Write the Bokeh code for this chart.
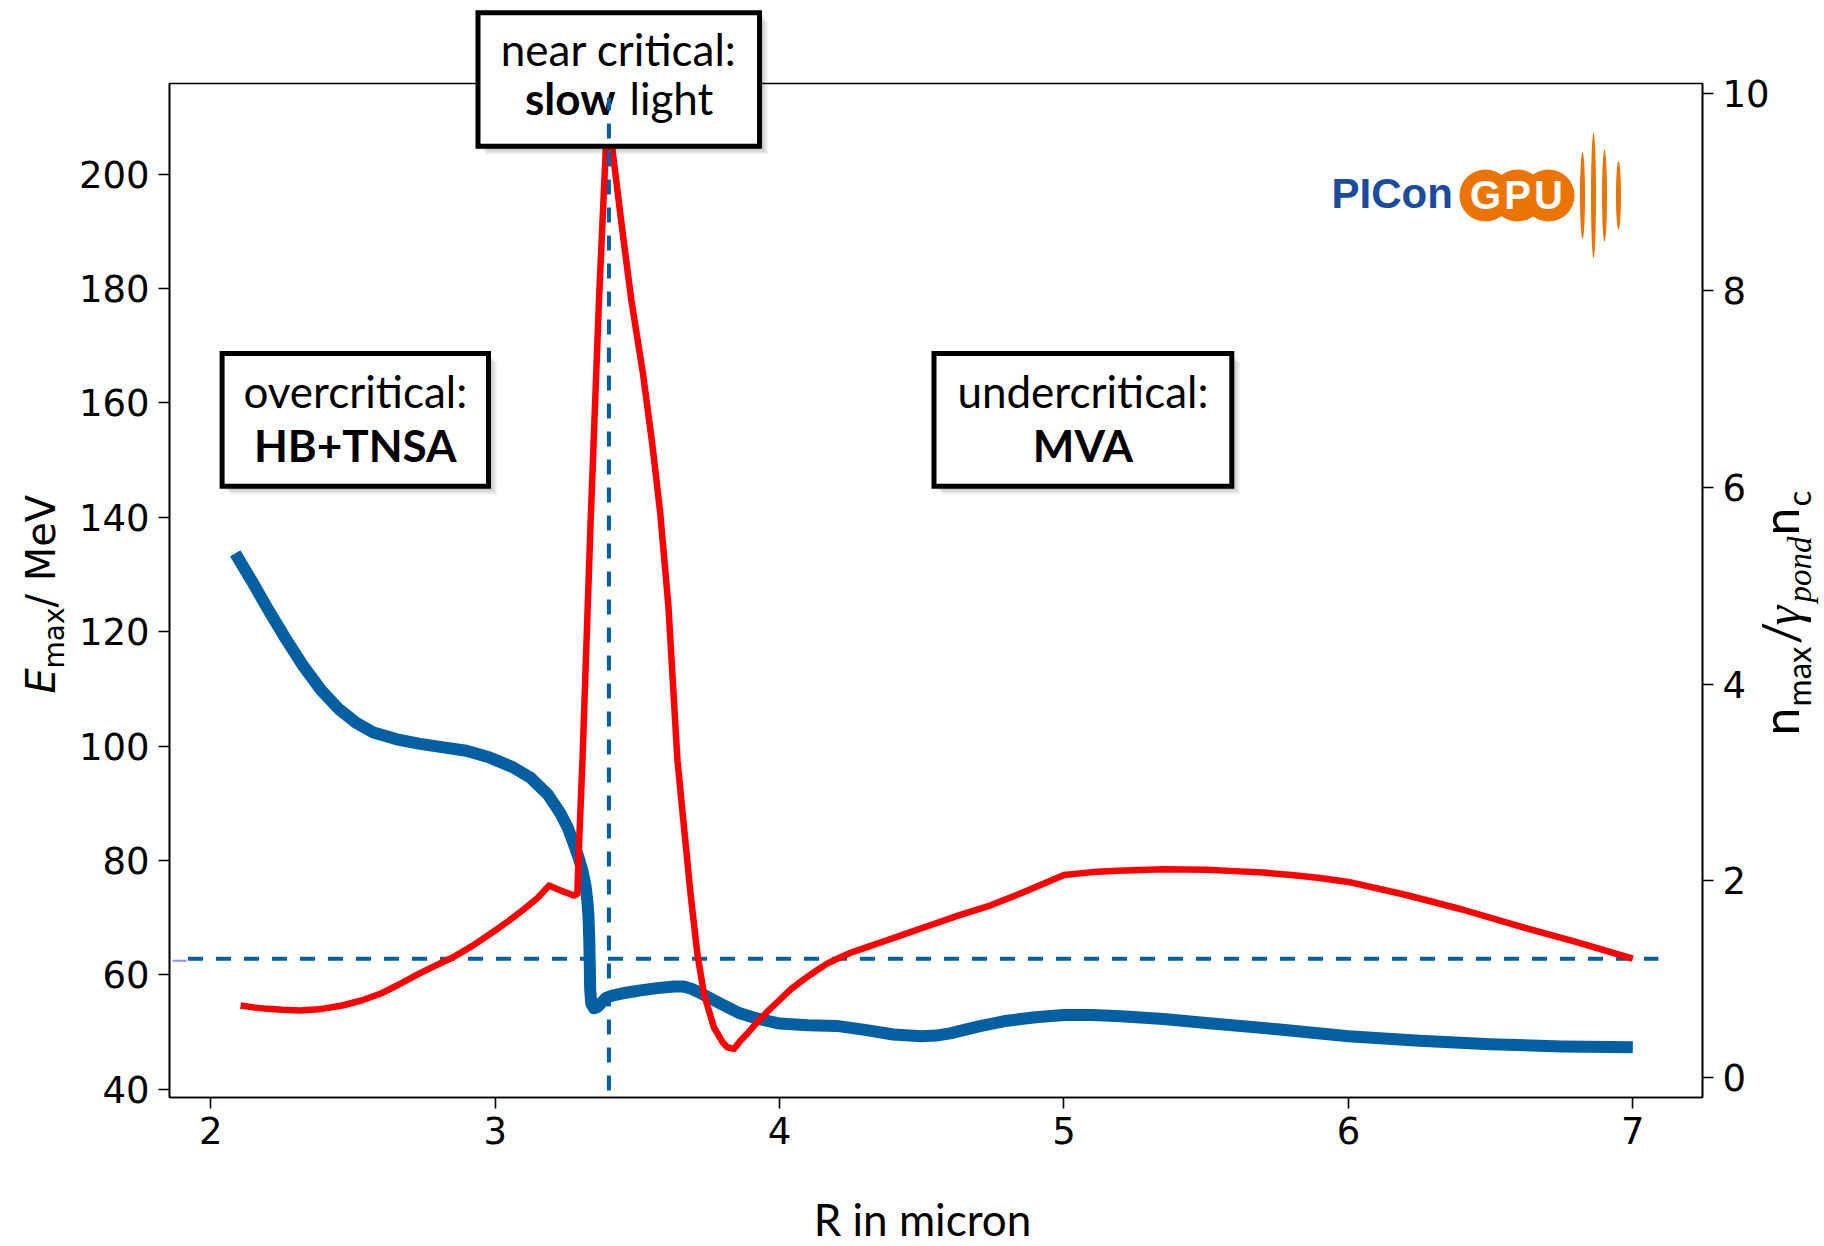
import math
from bokeh.plotting import figure
from bokeh.models import Range1d, LinearAxis, FixedTicker
from bokeh.core.properties import value
from bokeh.embed import file_html
from bokeh.resources import INLINE

# ---------------- data ----------------
# maximum proton energy (left axis, MeV) vs target radius R (micron)
R_blue = [2.086, 2.143, 2.204, 2.266, 2.327, 2.388, 2.450, 2.511, 2.572, 2.654,
          2.736, 2.818, 2.899, 2.981, 3.063, 3.124, 3.186, 3.230, 3.255, 3.276,
          3.293, 3.307, 3.318, 3.324, 3.328, 3.331, 3.333, 3.334, 3.338, 3.347,
          3.360, 3.375, 3.390, 3.412, 3.460, 3.511, 3.570, 3.629, 3.660, 3.690,
          3.720, 3.746, 3.800, 3.860, 3.920, 4.00, 4.10, 4.20, 4.30, 4.40,
          4.50, 4.55, 4.60, 4.70, 4.80, 4.90, 5.00, 5.10, 5.20, 5.35, 5.50,
          5.75, 6.00, 6.25, 6.50, 6.75, 7.00]
E_max = [133.7, 129.0, 123.7, 118.6, 113.9, 109.8, 106.5, 104.1, 102.4, 101.2,
         100.4, 99.8, 99.2, 98.0, 96.3, 94.5, 91.5, 88.2, 85.8, 83.0,
         80.6, 78.2, 75.5, 73.0, 70.5, 66.0, 61.0, 57.5, 55.0, 54.2,
         54.4, 55.2, 56.0, 56.4, 56.9, 57.3, 57.7, 58.0, 58.0, 57.6,
         56.9, 56.2, 54.8, 53.3, 52.4, 51.5, 51.2, 51.1, 50.4, 49.6,
         49.3, 49.4, 49.8, 51.0, 52.0, 52.6, 53.0, 53.0, 52.8, 52.3, 51.6,
         50.5, 49.3, 48.5, 47.9, 47.5, 47.37]

# n_max / (gamma_pond n_c) (right axis) vs R
R_red = [2.105, 2.150, 2.200, 2.250, 2.314, 2.380, 2.462, 2.530, 2.596, 2.660,
         2.731, 2.790, 2.852, 2.920, 3.000, 3.050, 3.100, 3.150, 3.189, 3.230,
         3.277, 3.289, 3.295, 3.307, 3.335, 3.365, 3.389, 3.396, 3.412, 3.450,
         3.479, 3.520, 3.552, 3.580, 3.609, 3.641, 3.664, 3.687, 3.711, 3.734,
         3.769, 3.800, 3.816, 3.840, 3.863, 3.890, 3.920, 3.960, 4.000, 4.040,
         4.085, 4.130, 4.167, 4.210, 4.250, 4.310, 4.370, 4.450, 4.530, 4.630,
         4.740, 4.870, 5.000, 5.100, 5.190, 5.350, 5.500, 5.600, 5.700, 5.800,
         5.900, 6.000, 6.200, 6.400, 6.600, 6.800, 7.000]
n_ratio = [0.734, 0.715, 0.700, 0.690, 0.683, 0.695, 0.734, 0.785, 0.853, 0.945,
           1.056, 1.140, 1.225, 1.340, 1.496, 1.600, 1.710, 1.830, 1.953, 1.903,
           1.852, 1.870, 2.377, 3.224, 5.600, 7.900, 9.440, 9.800, 9.440, 8.550,
           7.900, 7.150, 6.450, 5.750, 4.800, 3.224, 2.546, 1.869, 1.259, 0.853,
           0.513, 0.360, 0.310, 0.294, 0.378, 0.460, 0.560, 0.680, 0.790, 0.900,
           1.000, 1.090, 1.160, 1.220, 1.270, 1.330, 1.390, 1.470, 1.550, 1.650,
           1.750, 1.900, 2.060, 2.090, 2.105, 2.120, 2.115, 2.100, 2.085, 2.060,
           2.030, 1.990, 1.860, 1.710, 1.540, 1.380, 1.210]

# reference lines
R_slow = [3.40, 3.40]          # near-critical radius (vertical dashed)
n_slow_span = [-0.13, 9.96]
R_ref_span = [1.92, 7.09]      # horizontal dashed reference level
n_ref = [1.21, 1.21]

R_ticks = [2, 3, 4, 5, 6, 7]
E_ticks = [40, 60, 80, 100, 120, 140, 160, 180, 200]
n_ticks = [0, 2, 4, 6, 8, 10]

# ---------------- layout ----------------
W, H = 1824, 1246
FL, FR, FT, FB = 169, 1702, 83, 1097
X0, X1 = 1.855, 7.245
YL0, YL1 = 38.58, 215.85
YR0, YR1 = -0.201, 10.106


def px2x(px):
    return X0 + (px - FL) / (FR - FL) * (X1 - X0)


def py2y(py):
    return YL0 + (FB - py) / (FB - FT) * (YL1 - YL0)


# vertical shift of the rendered text relative to its anchor (fraction of size)
SHIFT = {"Lato": 0.41, "Liberation Sans": 0.37, "DejaVu Sans": 0.36,
         "Liberation Serif": 0.36}

BLUE = "#0260a2"
RED = "#ff0000"
ORANGE = "#ec7404"
TICK_FONT = "DejaVu Sans"
BOX_FONT = "Lato"

p = figure(width=W, height=H, output_backend="svg", toolbar_location=None,
           x_range=Range1d(X0, X1), y_range=Range1d(YL0, YL1),
           min_border_left=FL, min_border_right=W - FR,
           min_border_top=FT, min_border_bottom=H - FB)
p.extra_y_ranges = {"right": Range1d(YR0, YR1)}
p.grid.visible = False
p.background_fill_color = "white"
p.border_fill_color = "white"
p.outline_line_color = "black"
p.outline_line_width = 1.6

right_axis = LinearAxis(y_range_name="right")
p.add_layout(right_axis, "right")

for ax, ticks in ((p.xaxis[0], R_ticks), (p.yaxis[0], E_ticks), (right_axis, n_ticks)):
    ax.ticker = FixedTicker(ticks=ticks)
    ax.axis_line_color = "black"
    ax.axis_line_width = 1.6
    ax.major_tick_line_color = "black"
    ax.major_tick_line_width = 1.6
    ax.major_tick_out = 11
    ax.major_tick_in = 0
    ax.minor_tick_line_color = None
    ax.major_label_text_font = TICK_FONT
    ax.major_label_text_font_size = "37px"
    ax.major_label_text_color = "black"
    ax.major_label_standoff = 9

p.xaxis.major_label_standoff = 8


def txt(px, py, s, font, size, style="normal", align="left", angle=0.0,
        color="black"):
    """Place text so that its baseline passes through canvas point (px, py)."""
    sh = SHIFT[font] * size
    if angle == 0.0:
        ax_, ay_ = px, py - sh
    else:  # rotated 90 deg counter-clockwise: 'up' points to the left
        ax_, ay_ = px - sh, py
    p.text(x=[px2x(ax_)], y=[py2y(ay_)], text=[s], text_font=value(font),
           text_font_size=f"{size}px", text_font_style=style,
           text_color=color, text_align=align, text_baseline="alphabetic",
           angle=angle, level="overlay")


# ---------------- curves ----------------
p.line(R_ref_span, n_ref, y_range_name="right", line_color=BLUE,
       line_width=4, line_dash="15 13")
p.segment(x0=[px2x(172)], y0=[1.19], x1=[px2x(186)], y1=[1.19],
          y_range_name="right", line_color="#8f8ff0", line_width=2)
p.line(R_blue, E_max, line_color=BLUE, line_width=12, line_join="round")
p.line(R_red, n_ratio, y_range_name="right", line_color=RED, line_width=6.5,
       line_join="round")

# ---------------- annotation boxes ----------------
boxes = [
    # left, right, top, bottom (canvas px)
    (477.5, 759.0, 12.3, 145.8),
    (221.6, 488.0, 353.0, 485.7),
    (933.5, 1231.3, 353.0, 485.7),
]
for (l, r, t, b) in boxes:
    for d in (2, 4, 6, 8):
        p.quad(left=[px2x(l + d)], right=[px2x(r + d)], top=[py2y(t + d)],
               bottom=[py2y(b + d)], fill_color="black", fill_alpha=0.07,
               line_color=None, level="overlay")
    p.quad(left=[px2x(l)], right=[px2x(r)], top=[py2y(t)], bottom=[py2y(b)],
           fill_color="white", line_color="black", line_width=5,
           line_join="miter", level="overlay")

l, r, t, b = boxes[0]
txt((l + r) / 2, t + 54.5, "near critical:", BOX_FONT, 44, align="center")
txt(615, t + 103, "slow", BOX_FONT, 44, "bold", align="right")
txt(629, t + 103, "light", BOX_FONT, 44, align="left")
l, r, t, b = boxes[1]
txt((l + r) / 2, t + 56, "overcritical:", BOX_FONT, 44, align="center")
txt((l + r) / 2, t + 110, "HB+TNSA", BOX_FONT, 44, "bold", align="center")
l, r, t, b = boxes[2]
txt((l + r) / 2, t + 56, "undercritical:", BOX_FONT, 44, align="center")
txt((l + r) / 2, t + 110, "MVA", BOX_FONT, 44, "bold", align="center")

# vertical dashed line drawn above the boxes
p.line(R_slow, n_slow_span, y_range_name="right", line_color=BLUE,
       line_width=4, line_dash="15 13", level="overlay")

# ---------------- logo ----------------
txt(1331, 209, "PICon", "Liberation Sans", 42, "bold", color="#1a4b9c")
gpx = [1485, 1517, 1548]
p.scatter(x=[px2x(v) for v in gpx], y=[py2y(195)] * 3, size=52,
          marker="circle", fill_color=ORANGE, line_color=None)
for v, letter in zip(gpx, ["G", "P", "U"]):
    txt(v, 209, letter, "Liberation Sans", 40, "bold", align="center",
        color="white")
p.ellipse(x=[px2x(1582), px2x(1593), px2x(1604), px2x(1618)],
          y=[py2y(195)] * 4, width=5, height=[87, 125, 92, 69],
          width_units="screen", height_units="screen",
          fill_color=ORANGE, line_color=None)

# ---------------- axis titles ----------------
UP = math.pi / 2
# x: R in micron
txt(922, 1237, "R in micron", BOX_FONT, 44, align="center")
# left: E_max/ MeV  (rotated, reads bottom to top)
txt(55, 693, "E", "DejaVu Sans", 40, "italic", angle=UP)
txt(64, 668, "max", "DejaVu Sans", 28, angle=UP)
txt(55, 607, "/ MeV", "DejaVu Sans", 40, angle=UP)
# right: n_max / gamma_pond n_c
txt(1800, 735, "n", "Lato", 50, angle=UP)
txt(1811, 706, "max", "Lato", 33, angle=UP)
txt(1800, 644, "/", "Lato", 50, angle=UP)
txt(1800, 625, "\u03b3", "Liberation Serif", 50, "italic", angle=UP)
txt(1811, 602, "pond", "Liberation Serif", 33, "italic", angle=UP)
txt(1800, 535, "n", "Lato", 50, angle=UP)
txt(1811, 506, "c", "Lato", 33, angle=UP)

open("out.html", "w").write(file_html(p, INLINE))
